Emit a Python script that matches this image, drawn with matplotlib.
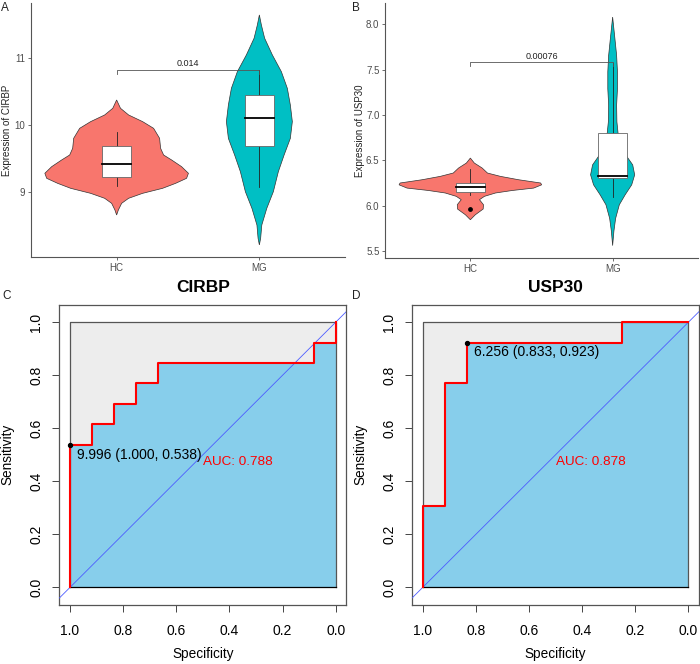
import numpy as np
import matplotlib
matplotlib.use("Agg")
import matplotlib.pyplot as plt
from matplotlib.patches import Rectangle

plt.rcParams['font.family'] = ['Liberation Sans', 'DejaVu Sans']

# ---- violin outlines (level, half width in category units) ----
cirbp_hc_level = [10.373, 10.249, 10.149, 10.050, 9.950, 9.801, 9.652, 9.552, 9.478, 9.378,
                  9.279, 9.204, 9.129, 9.055, 8.980, 8.906, 8.831, 8.731, 8.657]
cirbp_hc_half = [0.0, 0.027, 0.084, 0.182, 0.259, 0.301, 0.308, 0.329, 0.385, 0.455,
                 0.503, 0.490, 0.413, 0.322, 0.182, 0.084, 0.035, 0.012, 0.0]
cirbp_mg_level = [11.642, 11.493, 11.294, 11.045, 10.796, 10.547, 10.299, 10.050, 9.800,
                  9.550, 9.303, 9.005, 8.756, 8.507, 8.309, 8.210]
cirbp_mg_half = [0.0, 0.014, 0.037, 0.091, 0.154, 0.196, 0.217, 0.231, 0.217,
                 0.173, 0.133, 0.098, 0.052, 0.017, 0.009, 0.0]
usp30_hc_level = [6.525, 6.470, 6.415, 6.360, 6.323, 6.286, 6.250, 6.230, 6.194, 6.168,
                  6.140, 6.103, 6.066, 6.011, 5.963, 5.900, 5.845]
usp30_hc_half = [0.0, 0.028, 0.083, 0.120, 0.212, 0.339, 0.494, 0.501, 0.445, 0.297,
                 0.177, 0.099, 0.064, 0.092, 0.090, 0.035, 0.0]
usp30_mg_level = [8.080, 7.842, 7.658, 7.475, 7.290, 7.110, 6.925, 6.740, 6.560, 6.450,
                  6.340, 6.230, 6.120, 6.010, 5.860, 5.720, 5.560]
usp30_mg_half = [0.0, 0.016, 0.028, 0.034, 0.034, 0.028, 0.030, 0.042, 0.092, 0.141,
                 0.155, 0.134, 0.088, 0.047, 0.021, 0.009, 0.0]

# box stats: lower whisker, q1, median, q3, upper whisker
cirbp_hc_box = [9.09, 9.22, 9.42, 9.69, 9.90]
cirbp_mg_box = [9.08, 9.69, 10.10, 10.44, 10.82]
usp30_hc_box = [6.12, 6.147, 6.205, 6.25, 6.40]
usp30_mg_box = [6.10, 6.30, 6.33, 6.80, 7.57]
usp30_hc_outlier = [5.963]

groups = ["HC", "MG"]
p_cirbp = "0.014"
p_usp30 = "0.00076"

# ---- ROC curves (specificity, sensitivity) ----
cirbp_spec = [1.0, 1.0, 0.917, 0.917, 0.833, 0.833, 0.75, 0.75, 0.667, 0.667, 0.083, 0.083, 0.0, 0.0]
cirbp_sens = [0.0, 0.538, 0.538, 0.615, 0.615, 0.692, 0.692, 0.769, 0.769, 0.846, 0.846, 0.923, 0.923, 1.0]
usp30_spec = [1.0, 1.0, 0.917, 0.917, 0.833, 0.833, 0.25, 0.25, 0.0]
usp30_sens = [0.0, 0.308, 0.308, 0.769, 0.769, 0.923, 0.923, 1.0, 1.0]
cirbp_best = (1.000, 0.538, "9.996")
usp30_best = (0.833, 0.923, "6.256")
cirbp_auc = 0.788
usp30_auc = 0.878

W, H = 700, 664
fig = plt.figure(figsize=(7, 6.64), dpi=100)


def px_axes(left, top, right, bottom):
    return fig.add_axes([left / W, 1 - bottom / H, (right - left) / W, (bottom - top) / H])


def violin_panel(ax, levels, halves, boxes, ylim, yticks, fmt, ylabel, pval, ybr, tick, outliers):
    cols = ["#F8766D", "#00BFC4"]
    for i in range(2):
        x = i + 1
        lv = np.array(levels[i])
        hw = np.array(halves[i])
        xs = np.concatenate([x - hw, (x + hw)[::-1]])
        ys = np.concatenate([lv, lv[::-1]])
        ax.fill(xs, ys, facecolor=cols[i], edgecolor="#333333", lw=0.5, zorder=1)
        lo, q1, med, q3, hi = boxes[i]
        ax.plot([x, x], [lo, q1], color="#222222", lw=0.6, zorder=2)
        ax.plot([x, x], [q3, hi], color="#222222", lw=0.6, zorder=2)
        ax.add_patch(Rectangle((x - 0.1, q1), 0.2, q3 - q1, facecolor="white",
                               edgecolor="#666666", lw=0.6, zorder=3))
        ax.plot([x - 0.1, x + 0.1], [med, med], color="black", lw=1.3, zorder=4)
    if outliers:
        ax.scatter([1] * len(outliers), outliers, s=6, color="black", zorder=5)
    ax.plot([1, 1, 2, 2], [ybr - tick, ybr, ybr, ybr - tick], color="#555555", lw=0.6, zorder=6)
    ax.text(1.5, ybr + tick * 0.4, pval, ha="center", va="bottom", fontsize=6.5, color="#222222")
    ax.set_xlim(0.4, 2.6)
    ax.set_ylim(*ylim)
    ax.set_xticks([1, 2])
    ax.set_xticklabels(groups)
    ax.set_yticks(yticks)
    ax.set_yticklabels([fmt % t for t in yticks])
    ax.spines["top"].set_visible(False)
    ax.spines["right"].set_visible(False)
    for s in ("left", "bottom"):
        ax.spines[s].set_color("#555555")
        ax.spines[s].set_linewidth(0.8)
    ax.tick_params(length=2.5, width=0.6, color="#555555", labelsize=7, labelcolor="#4D4D4D", pad=1.5)
    ax.set_ylabel(ylabel, fontsize=7, color="#222222")


axA = px_axes(31, 3, 345, 257)
violin_panel(axA, [cirbp_hc_level, cirbp_mg_level], [cirbp_hc_half, cirbp_mg_half],
             [cirbp_hc_box, cirbp_mg_box], (8.03, 11.82), [9, 10, 11], "%d",
             "Expression of CIRBP", p_cirbp, 10.82, 0.06, None)
axA.yaxis.set_label_coords(-0.06, 0.5)

axB = px_axes(385, 3, 698, 258)
violin_panel(axB, [usp30_hc_level, usp30_mg_level], [usp30_hc_half, usp30_mg_half],
             [usp30_hc_box, usp30_mg_box], (5.423, 8.235), [5.5, 6.0, 6.5, 7.0, 7.5, 8.0], "%.1f",
             "Expression of USP30", p_usp30, 7.58, 0.045, usp30_hc_outlier)
axB.yaxis.set_label_coords(-0.064, 0.5)


def roc_panel(ax, spec, sens, best, auc, title):
    spec = np.array(spec)
    sens = np.array(sens)
    ax.fill([1, 1, 0, 0], [0, 1, 1, 0], facecolor="#EDEDED", edgecolor="none", zorder=1)
    ax.fill(np.concatenate([spec, [0, 1]]), np.concatenate([sens, [0, 0]]),
            facecolor="#87CEEB", edgecolor="none", zorder=2)
    ax.plot([1, 1, 0, 0], [0, 1, 1, 0], color="#555555", lw=0.9, zorder=3)
    ax.plot([1, 0], [0, 0], color="black", lw=0.9, zorder=3)
    ax.axline((1, 0), (0, 1), color="#4D5CFF", lw=0.6, zorder=4)
    ax.plot(spec, sens, color="#FF0000", lw=1.5, zorder=5)
    ax.scatter([best[0]], [best[1]], s=8, color="black", zorder=6)
    ax.text(best[0] - 0.025, best[1] - 0.037, "%s (%.3f, %.3f)" % (best[2], best[0], best[1]),
            ha="left", va="center", fontsize=10, color="black", zorder=7)
    ax.text(0.5, 0.473, "AUC: %.3f" % auc, ha="left", va="center", fontsize=9.7,
            color="#FF0000", zorder=7)
    ax.set_xlim(1.04, -0.04)
    ax.set_ylim(-0.0665, 1.0665)
    ticks = [1.0, 0.8, 0.6, 0.4, 0.2, 0.0]
    ax.set_xticks(ticks)
    ax.set_xticklabels(["%.1f" % t for t in ticks])
    ax.set_yticks(ticks)
    ax.set_yticklabels(["%.1f" % t for t in ticks], rotation=90, va="center")
    ax.tick_params(axis="x", length=5, width=0.7, color="#444444", labelsize=10, pad=8.5)
    ax.tick_params(axis="y", length=5, width=0.7, color="#444444", labelsize=10, pad=6.5)
    for s in ax.spines.values():
        s.set_color("#555555")
        s.set_linewidth(0.9)
    ax.set_xlabel("Specificity", fontsize=9.8)
    ax.set_ylabel("Sensitivity", fontsize=9.8)
    ax.xaxis.set_label_coords(0.5, -0.14)
    ax.yaxis.set_label_coords(-0.155, 0.5)
    ax.set_title(title, fontsize=12.5, fontweight="bold", pad=9)


axC = px_axes(59.4, 304.6, 346.3, 605)
roc_panel(axC, cirbp_spec, cirbp_sens, cirbp_best, cirbp_auc, "CIRBP")

axD = px_axes(412.1, 304.6, 699, 605)
roc_panel(axD, usp30_spec, usp30_sens, usp30_best, usp30_auc, "USP30")

for lab, x, y in [("A", 1, 2), ("B", 352, 2), ("C", 2, 290), ("D", 352, 290)]:
    fig.text(x / W, 1 - y / H, lab, ha="left", va="top", fontsize=8.5, color="#222222")

fig.savefig("out.png", dpi=100)
